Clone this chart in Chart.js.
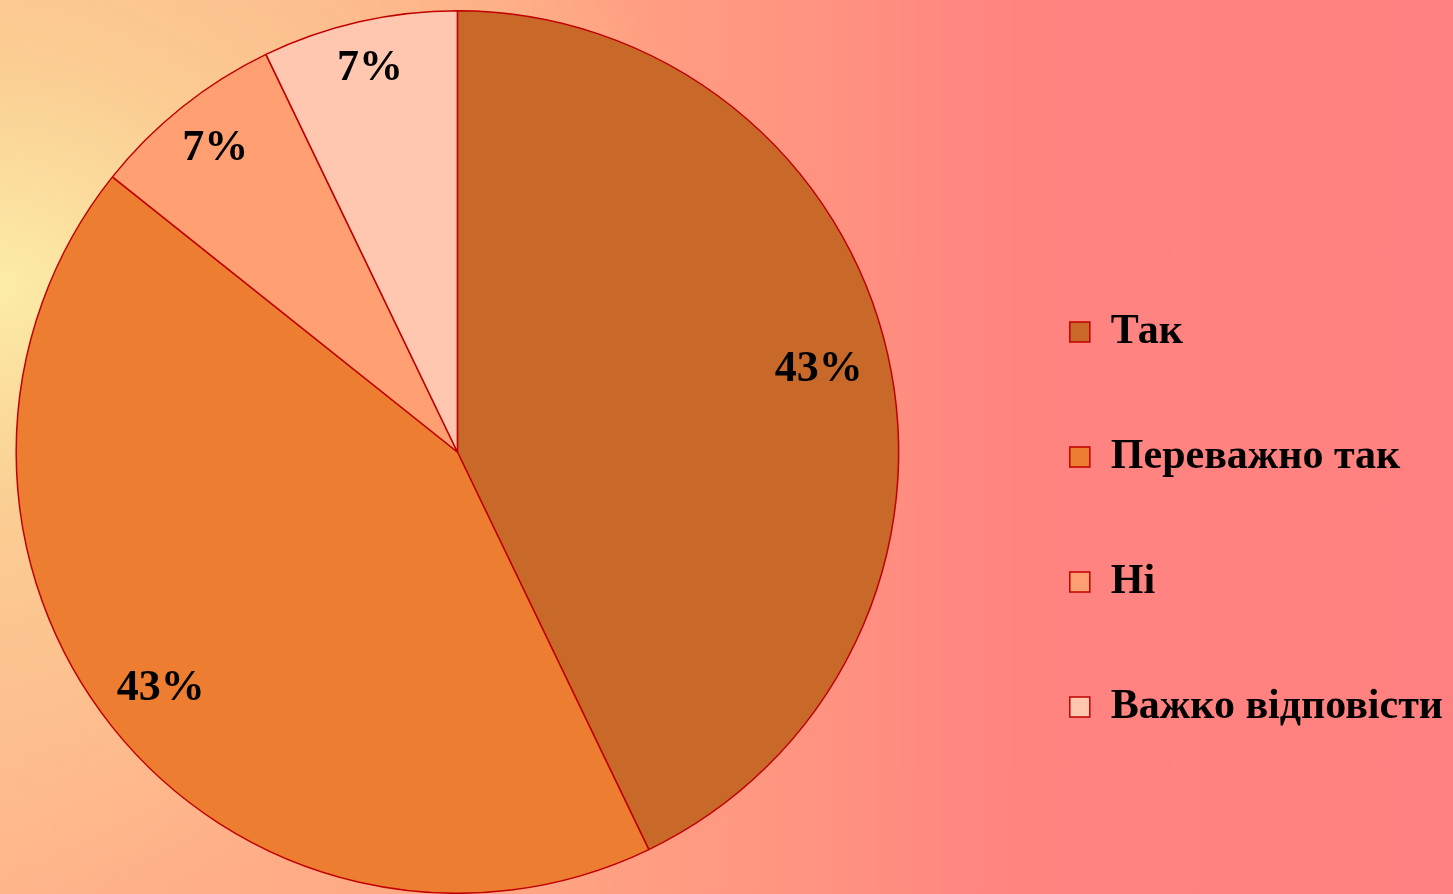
<!DOCTYPE html>
<html>
<head>
<meta charset="utf-8">
<script src="https://cdn.jsdelivr.net/npm/chart.js@4/dist/chart.umd.min.js"></script>
<style>
    html, body {
        margin: 0;
        padding: 0;
        width: 1453px;
        height: 894px;
        overflow: hidden;
    }
    body {
        position: relative;
        background:
            radial-gradient(ellipse 720px 620px at 0% 32%, rgba(252,236,168,1) 0%, rgba(250,208,148,0.85) 38%, rgba(255,175,135,0) 100%),
            linear-gradient(to right, #FFB48A 0%, #FFA684 35%, #FF9480 55%, #FF8480 70%, #FF8080 100%);
    }
    /* canvas is a bit wider than the page and shifted left, so the pie sits
       further from the legend */
    #wrap {
        position: absolute;
        left: -72px;
        top: 0;
        width: 1525px;
        height: 894px;
    }
</style>
</head>
<body>
<div id="wrap"><canvas id="chart"></canvas></div>
<script>
// answers and counts (share of respondents)
const categories = ['Так', 'Переважно так', 'Ні', 'Важко відповісти'];
const counts = [6, 6, 1, 1];
const sliceColors = ['#C8692A', '#ED7D31', '#FF9F72', '#FFC6B0'];

const serif = '"Liberation Serif", "Times New Roman", serif';

// draws the percentage labels inside the slices
const pctLabels = {
    id: 'pctLabels',
    afterDatasetsDraw(chart, args, opts) {
        const ctx = chart.ctx;
        const meta = chart.getDatasetMeta(0);
        const data = chart.data.datasets[0].data;
        const total = data.reduce((a, b) => a + b, 0);
        ctx.save();
        ctx.font = 'bold ' + opts.size + 'px ' + serif;
        ctx.fillStyle = '#000';
        ctx.textAlign = 'center';
        ctx.textBaseline = 'middle';
        meta.data.forEach((arc, i) => {
            const p = arc.getProps(['x', 'y', 'startAngle', 'endAngle', 'outerRadius'], true);
            const mid = (p.startAngle + p.endAngle) / 2;
            const r = p.outerRadius * opts.dist[i];
            const txt = Math.round(data[i] / total * 100) + '%';
            ctx.fillText(txt, p.x + Math.cos(mid) * r, p.y + Math.sin(mid) * r);
        });
        ctx.restore();
    }
};

new Chart(document.getElementById('chart'), {
    type: 'pie',
    data: {
        labels: categories,
        datasets: [{
            data: counts,
            backgroundColor: sliceColors,
            borderColor: '#C00000',
            borderWidth: 1.5
        }]
    },
    options: {
        responsive: true,
        maintainAspectRatio: false,
        animation: false,
        layout: { padding: { top: 10, bottom: 0, left: 0, right: 0 } },
        plugins: {
            tooltip: { enabled: false },
            legend: {
                position: 'right',
                title: {
                    display: true,
                    text: ' ',
                    font: { size: 10, lineHeight: 1 },
                    padding: { top: 62, bottom: 63 }
                },
                labels: {
                    color: '#000',
                    boxWidth: 20,
                    boxHeight: 20,
                    padding: 83,
                    font: { family: serif, size: 42, weight: 'bold' }
                }
            },
            pctLabels: {
                size: 44,
                dist: [0.84, 0.86, 0.88, 0.89]
            }
        }
    },
    plugins: [pctLabels]
});
</script>
</body>
</html>
